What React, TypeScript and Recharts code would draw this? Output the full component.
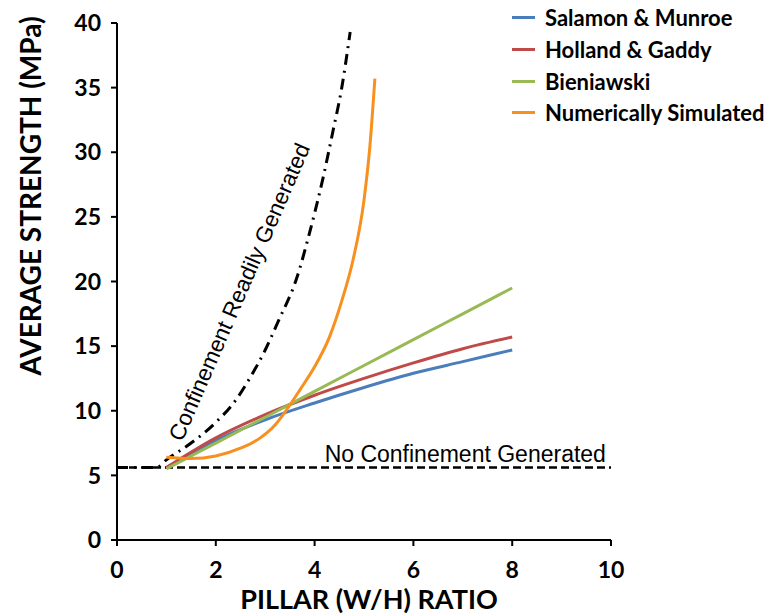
import React from 'react';
import { LineChart, Line, XAxis, YAxis, ReferenceLine, ReferenceDot, Legend, Label } from 'recharts';

const xTicks = [0, 2, 4, 6, 8, 10];
const yTicks = [0, 5, 10, 15, 20, 25, 30, 35, 40];

const empiricalRatio = [1, 2, 3, 4, 5, 6, 7, 8];
const salamonMunroe = [5.6, 7.7, 9.3, 10.6, 11.8, 12.9, 13.8, 14.7];
const hollandGaddy = [5.6, 7.9, 9.7, 11.2, 12.5, 13.7, 14.8, 15.7];
const bieniawski = [5.5, 7.5, 9.5, 11.5, 13.5, 15.5, 17.5, 19.5];

const simRatio = [1.0, 1.5, 2.0, 2.5, 2.9, 3.2, 3.4, 3.7, 4.0, 4.3, 4.55, 4.78, 5.0, 5.12, 5.22];
const simulated = [6.4, 6.3, 6.5, 7.1, 7.9, 8.9, 9.9, 11.6, 13.4, 15.7, 18.5, 21.7, 26.3, 30.5, 35.7];

const confRatio = [0, 0.8, 1.0, 1.5, 2.0, 2.4, 2.7, 3.0, 3.25, 3.65, 3.9, 4.17, 4.37, 4.55, 4.72];
const confinement = [5.6, 5.6, 6.2, 7.5, 9.1, 10.8, 12.6, 14.7, 16.8, 20.4, 23.8, 28.0, 31.6, 35.0, 39.3];

const noConfinementLevel = 5.6;

const seriesNames = ['Salamon & Munroe', 'Holland & Gaddy', 'Bieniawski', 'Numerically Simulated'];
const seriesColors = ['#4A7EBB', '#BE4B48', '#98B954', '#F7901E'];

const toPoints = (xs: number[], ys: number[]) => xs.map((x, i) => ({ x, y: ys[i] }));

const calibri = 'Lato, "Open Sans", sans-serif';
const arial = '"Liberation Sans", Arial, sans-serif';

const renderLegend = (props: any) => {
  const items = (props.payload || [])
    .filter((p: any) => seriesNames.includes(p.value))
    .sort((a: any, b: any) => seriesNames.indexOf(a.value) - seriesNames.indexOf(b.value));
  return (
    <div style={{ fontFamily: calibri, fontWeight: 700, fontSize: 22, color: '#000' }}>
      {items.map((it: any) => (
        <div key={it.value} style={{ display: 'flex', alignItems: 'center', height: 31.7 }}>
          <span style={{ display: 'inline-block', width: 23, height: 3, background: it.color, marginRight: 10 }} />
          <span>{it.value}</span>
        </div>
      ))}
    </div>
  );
};

export default function App() {
  return (
    <div style={{ position: 'absolute', left: 0, top: 0, background: '#fff' }}>
      <LineChart width={765} height={616} margin={{ top: 23, right: 154, bottom: 0, left: 0 }}>
        <XAxis
          dataKey="x"
          type="number"
          domain={[0, 10]}
          ticks={xTicks}
          interval={0}
          allowDuplicatedCategory={false}
          height={76}
          tickSize={6}
          tickMargin={16}
          axisLine={{ stroke: '#000', strokeWidth: 2 }}
          tickLine={{ stroke: '#000', strokeWidth: 2 }}
          tick={{ fill: '#000', fontSize: 23, fontWeight: 700, fontFamily: calibri }}
        >
          <Label
            content={() => (
              <text x={369} y={609} textAnchor="middle" fill="#000" style={{ fontFamily: calibri, fontWeight: 700, fontSize: 27 }}>
                PILLAR (W/H) RATIO
              </text>
            )}
          />
        </XAxis>
        <YAxis
          type="number"
          domain={[0, 40]}
          ticks={yTicks}
          interval={0}
          width={117}
          tickSize={6}
          tickMargin={10}
          axisLine={{ stroke: '#000', strokeWidth: 2 }}
          tickLine={{ stroke: '#000', strokeWidth: 2 }}
          tick={{ fill: '#000', fontSize: 23, fontWeight: 700, fontFamily: calibri }}
        >
          <Label
            content={() => (
              <text x={41} y={196} transform="rotate(-90 41 196)" textAnchor="middle" fill="#000" style={{ fontFamily: calibri, fontWeight: 700, fontSize: 28 }}>
                AVERAGE STRENGTH (MPa)
              </text>
            )}
          />
        </YAxis>
        <ReferenceLine y={noConfinementLevel} stroke="#000" strokeWidth={2.5} strokeDasharray="8 4" />
        <ReferenceDot
          x={7.05}
          y={noConfinementLevel}
          r={0}
          fill="none"
          stroke="none"
          label={{ value: 'No Confinement Generated', position: 'top', offset: 6, fill: '#000', fontSize: 23, fontFamily: arial }}
        />
        <ReferenceDot
          x={2.47}
          y={19.2}
          r={0}
          fill="none"
          stroke="none"
          label={{ value: 'Confinement Readily Generated', position: 'center', angle: -66.5, fill: '#000', fontSize: 22.5, fontFamily: arial }}
        />
        <Line
          data={toPoints(confRatio, confinement)}
          dataKey="y"
          type="monotone"
          stroke="#000"
          strokeWidth={3}
          strokeDasharray="11 6 2 6"
          dot={false}
          legendType="none"
          isAnimationActive={false}
        />
        <Line data={toPoints(empiricalRatio, salamonMunroe)} dataKey="y" name={seriesNames[0]} type="monotone" stroke={seriesColors[0]} strokeWidth={3} dot={false} isAnimationActive={false} />
        <Line data={toPoints(empiricalRatio, hollandGaddy)} dataKey="y" name={seriesNames[1]} type="monotone" stroke={seriesColors[1]} strokeWidth={3} dot={false} isAnimationActive={false} />
        <Line data={toPoints(empiricalRatio, bieniawski)} dataKey="y" name={seriesNames[2]} type="monotone" stroke={seriesColors[2]} strokeWidth={3} dot={false} isAnimationActive={false} />
        <Line data={toPoints(simRatio, simulated)} dataKey="y" name={seriesNames[3]} type="monotone" stroke={seriesColors[3]} strokeWidth={3} dot={false} isAnimationActive={false} />
        <Legend
          layout="vertical"
          align="center"
          verticalAlign="middle"
          content={renderLegend}
          wrapperStyle={{ left: 512, top: 2, width: 253 }}
        />
      </LineChart>
    </div>
  );
}
